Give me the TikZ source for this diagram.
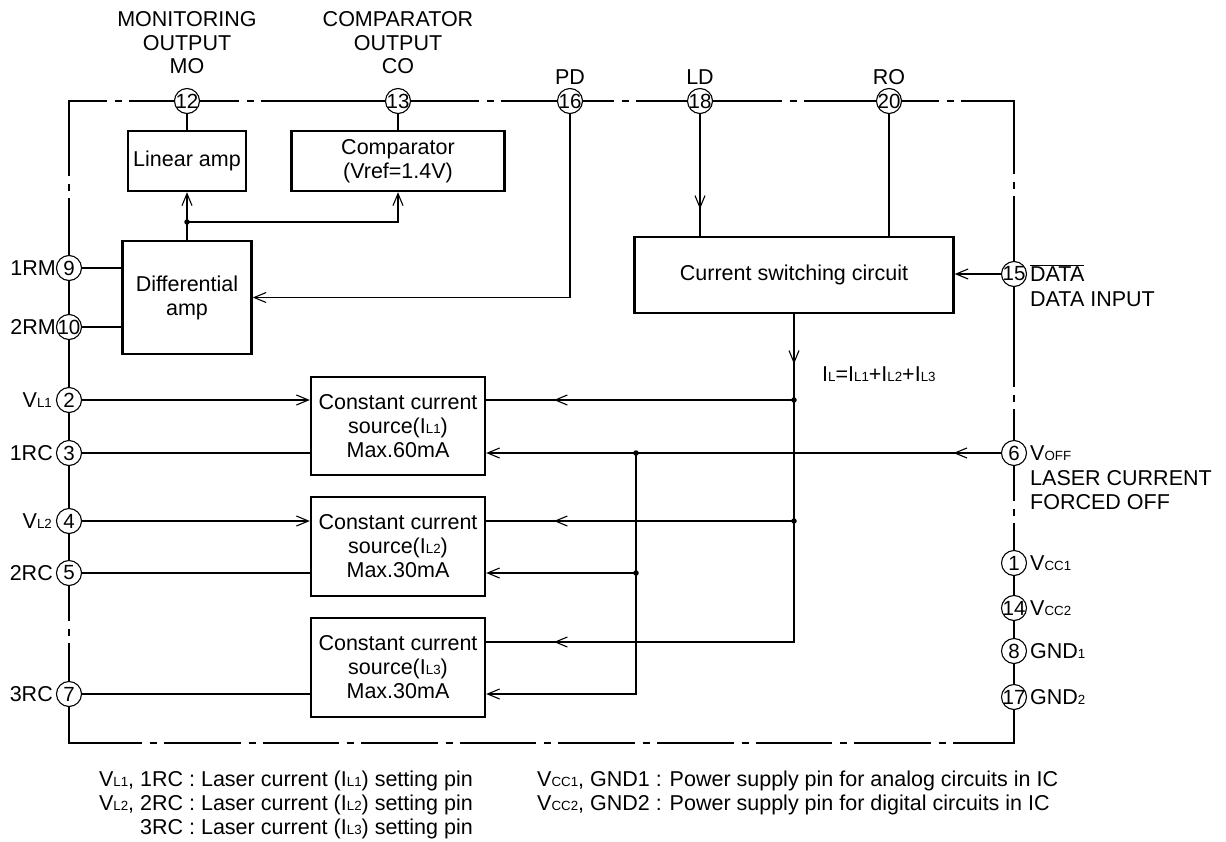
\documentclass[tikz,border=0pt]{standalone}
\usepackage{fontspec}
\setmainfont{Liberation Sans}
\usetikzlibrary{arrows.meta,decorations.markings}
\newcommand\sm[1]{{\fontsize{13.3}{13.3}\selectfont #1}}
\newcommand\hbk[2]{\fill[white] (#1-11,#2-3) rectangle (#1+11,#2+3); \draw[wire] (#1-3.5,#2) -- (#1+3.5,#2);}
\newcommand\vbk[2]{\fill[white] (#1-3,#2-11) rectangle (#1+3,#2+11); \draw[wire] (#1,#2-3.5) -- (#1,#2+3.5);}
\tikzset{
  wire/.style={line width=1.1pt},
  pin/.style={circle, draw, fill=white, line width=1.1pt, minimum size=25pt, inner sep=-2pt, font=\fontsize{20.5}{20.5}\selectfont},
  blk/.style={draw, line width=2.4pt, align=center, inner sep=0pt, font=\fontsize{21.5}{24}\selectfont},
  arr/.style={-{Straight Barb[length=12pt,width=10pt]}},
  midarr/.style={postaction={decorate},decoration={markings,mark=at position #1 with {\arrow{Straight Barb[length=12pt,width=10pt]}}}},
  dot/.style={circle, fill, inner sep=0pt, minimum size=5.5pt},
  lbl/.style={inner sep=0pt, font=\fontsize{21.5}{23.5}\selectfont}
}
\begin{document}
\begin{tikzpicture}[x=1pt,y=-1pt]
\useasboundingbox (0,0) rectangle (1226,841);
% border
\draw[wire] (69,101) rectangle (1014,743);
\foreach \x in {118,250,490,625,793,950} {\hbk{\x}{101}}
\foreach \x in {153,252,350,449,547,646,745,843,942} {\hbk{\x}{743}}
\foreach \y in {187,632} {\vbk{69}{\y}}
\foreach \y in {185,398,512} {\vbk{1014}{\y}}

% blocks
\node[blk, minimum width=118pt, minimum height=60pt] (lin) at (187,161) {Linear amp};
\node[blk, minimum width=213pt, minimum height=60pt] (comp) at (398,161) {Comparator\\(Vref=1.4V)};
\node[blk, minimum width=129pt, minimum height=113pt] (diff) at (187,297.5) {Differential\\amp};
\node[blk, minimum width=319pt, minimum height=76pt] (csw) at (794,275) {Current switching circuit};
\node[blk, minimum width=174pt, minimum height=98pt] (c1) at (398,426) {Constant current\\source(I\sm{L1})\\Max.60mA};
\node[blk, minimum width=174pt, minimum height=99pt] (c2) at (398,546.5) {Constant current\\source(I\sm{L2})\\Max.30mA};
\node[blk, minimum width=174pt, minimum height=99pt] (c3) at (398,667.5) {Constant current\\source(I\sm{L3})\\Max.30mA};

% pins
\node[pin] (p12) at (187,101) {12};
\node[pin] (p13) at (398,101) {13};
\node[pin] (p16) at (570,101) {16};
\node[pin] (p18) at (700,101) {18};
\node[pin] (p20) at (889,101) {20};
\node[pin] (p9) at (69,268) {9};
\node[pin] (p10) at (69,327) {10};
\node[pin] (p2) at (69,400) {2};
\node[pin] (p3) at (69,453) {3};
\node[pin] (p4) at (69,521) {4};
\node[pin] (p5) at (69,573) {5};
\node[pin] (p7) at (69,694) {7};
\node[pin] (p15) at (1014,274) {15};
\node[pin] (p6) at (1014,453) {6};
\node[pin] (p1) at (1014,563) {1};
\node[pin] (p14) at (1014,608) {14};
\node[pin] (p8) at (1014,651) {8};
\node[pin] (p17) at (1014,697) {17};

% junctions
\coordinate (dj) at (187,222);
\coordinate (j1) at (794,400);
\coordinate (j2) at (794,521);
\coordinate (k3) at (794,642);
\coordinate (v1) at (636,453);
\coordinate (v2) at (636,573);
\coordinate (v3) at (636,694);

% top connections
\draw[wire] (p12) -- (lin.north);
\draw[wire] (p13) -- (comp.north);
\draw[wire] (diff.north) -- (dj);
\draw[wire,arr] (dj) -- (lin.south);
\draw[wire,arr] (dj) -| (comp.south);
\draw[wire,arr] (p16) |- (diff.east);
\draw[wire,midarr=0.78] (p18) -- (csw.north -| p18);
\draw[wire] (p20) -- (csw.north -| p20);
\draw[wire,arr] (p15) -- (p15 -| csw.east);

% left connections
\draw[wire] (p9) -- (p9 -| diff.west);
\draw[wire] (p10) -- (p10 -| diff.west);
\draw[wire,arr] (p2) -- (p2 -| c1.west);
\draw[wire] (p3) -- (p3 -| c1.west);
\draw[wire,arr] (p4) -- (p4 -| c2.west);
\draw[wire] (p5) -- (p5 -| c2.west);
\draw[wire] (p7) -- (p7 -| c3.west);

% current sum
\draw[wire,midarr=0.58] (csw.south) -- (j1);
\draw[wire] (j1) -- (j2);
\draw[wire,midarr=0.78] (j1) -- (c1.east |- j1);
\draw[wire,midarr=0.78] (j2) -- (c2.east |- j2);
\draw[wire,midarr=0.842] (j2) |- (c3.east |- k3);

% Voff
\draw[wire,midarr=0.13] (p6) -- (v1);
\draw[wire,arr] (v1) -- (c1.east |- v1);
\draw[wire] (v1) -- (v2);
\draw[wire,arr] (v2) -- (c2.east |- v2);
\draw[wire,arr] (v2) |- (c3.east |- v3);

\node[dot] at (dj) {};
\node[dot] at (j1) {};
\node[dot] at (j2) {};
\node[dot] at (v1) {};
\node[dot] at (v2) {};

% labels top
\node[lbl, align=center, anchor=north] (lmo) at (187,11.5) {MONITORING\\OUTPUT\\MO};
\node[lbl, align=center, anchor=north] (lco) at (398,11.5) {COMPARATOR\\OUTPUT\\CO};
\node[lbl, anchor=base] (lpd) at (570,84) {PD};
\node[lbl, anchor=base] (lld) at (700,84) {LD};
\node[lbl, anchor=base] (lro) at (889,84) {RO};

% labels left
\node[lbl, anchor=base east] at (56,275.5) {1RM};
\node[lbl, anchor=base east] at (56,334.5) {2RM};
\node[lbl, anchor=base east] at (52,407.5) {V\sm{L1}};
\node[lbl, anchor=base east] at (53,460.5) {1RC};
\node[lbl, anchor=base east] at (52,528.5) {V\sm{L2}};
\node[lbl, anchor=base east] at (53,580.5) {2RC};
\node[lbl, anchor=base east] at (53,701.5) {3RC};

% labels right
\node[lbl, anchor=base west] at (1030,281.5) {$\overline{\hbox{DATA}}$};
\node[lbl, anchor=base west] at (1030,306) {DATA INPUT};
\node[lbl, anchor=base west] at (1030,460.5) {V\sm{OFF}};
\node[lbl, anchor=base west] at (1030,485) {LASER CURRENT};
\node[lbl, anchor=base west] at (1030,509) {FORCED OFF};
\node[lbl, anchor=base west] at (1030,570.5) {V\sm{CC1}};
\node[lbl, anchor=base west] at (1030,615.5) {V\sm{CC2}};
\node[lbl, anchor=base west] at (1030,658.5) {GND\sm{1}};
\node[lbl, anchor=base west] at (1030,704.5) {GND\sm{2}};

\node[lbl, anchor=base west] at (822,381) {I\sm{L}=I\sm{L1}+I\sm{L2}+I\sm{L3}};

% footnotes
\node[lbl, anchor=base east] at (473,786) {V\sm{L1}, 1RC : Laser current (I\sm{L1}) setting pin};
\node[lbl, anchor=base east] at (473,810) {V\sm{L2}, 2RC : Laser current (I\sm{L2}) setting pin};
\node[lbl, anchor=base east] at (473,834) {3RC : Laser current (I\sm{L3}) setting pin};
\node[lbl, anchor=base west] at (537,786) {V\sm{CC1}, GND1 : Power supply pin for analog circuits in IC};
\node[lbl, anchor=base west] at (537,810) {V\sm{CC2}, GND2 : Power supply pin for digital circuits in IC};
\end{tikzpicture}
\end{document}
